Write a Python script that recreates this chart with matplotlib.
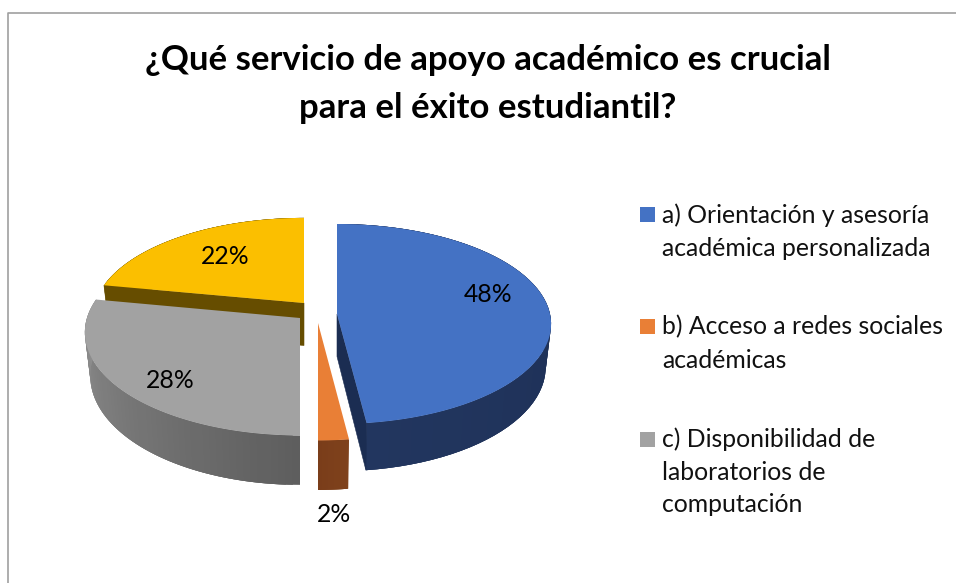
import numpy as np
import matplotlib
matplotlib.use('Agg')
import matplotlib.pyplot as plt
from matplotlib.patches import Polygon, Rectangle
from matplotlib.colors import to_rgb

plt.rcParams['font.family'] = ['Lato', 'DejaVu Sans']

# datos
titulo = ['¿Qué servicio de apoyo académico es crucial', 'para el éxito estudiantil?']
valores = [48, 2, 28, 22]
etiquetas = ['48%', '2%', '28%', '22%']
leyenda = [
    ['a) Orientación y asesoría', 'académica personalizada'],
    ['b) Acceso a redes sociales', 'académicas'],
    ['c) Disponibilidad de', 'laboratorios de', 'computación'],
]

# estilo de cada porcion: color, borde claro y oscuro del lateral, cara de corte
colores = ['#4472C4', '#E97F36', '#A2A2A2', '#FBBF00']
lateral_a = ['#1A2B50', '#7F421C', '#5E5E5E', '#664D00']
lateral_b = ['#22365F', '#7A3D1A', '#939393', '#664D00']
corte = ['#1B2D52', '#7D3F1C', '#6E6E6E', '#664D00']
# centro de cada porcion en pixeles y radios
centros = [(337, 314), (318, 323), (300, 318), (304, 303)]
radios_x = [213, 213, 213, 209]
radios_y = [99, 101, 101, 97]
persp = [0.10, 0.14, 0.14, 0.14]
prof = 42.5

fig = plt.figure(figsize=(9.56, 5.83), dpi=100)
ax = fig.add_axes([0, 0, 1, 1])
ax.set_xlim(0, 956)
ax.set_ylim(583, 0)
ax.axis('off')


def punto(i, ang, abajo=False):
    # angulo desde las 12 en sentido horario, con perspectiva
    x = np.sin(ang)
    y = np.cos(ang)
    esc = 1 / (1 + persp[i] * y)
    cx, cy = centros[i]
    f = 0.975 if abajo else 1.0
    px = cx + radios_x[i] * x * esc * f
    py = cy - radios_y[i] * y * esc
    if abajo:
        py = py + prof * esc
    return px, py


def base(i, abajo=False):
    cx, cy = centros[i]
    return cx, cy + (prof if abajo else 0)


fin = np.cumsum(valores) / np.sum(valores) * 2 * np.pi
inicio = np.concatenate([[0], fin[:-1]])

# orden de dibujo: de atras hacia adelante
for i in [3, 2, 1, 0]:
    angs = np.linspace(inicio[i], fin[i], 61)
    # lateral con degradado, cada tramo solapa al siguiente para evitar rayas
    c0 = np.array(to_rgb(lateral_a[i]))
    c1 = np.array(to_rgb(lateral_b[i]))
    for j in range(len(angs) - 1):
        t = j / (len(angs) - 2)
        col = c0 * (1 - t) + c1 * t
        k2 = min(j + 3, len(angs) - 1)
        tramo = angs[j:k2 + 1]
        pts = [punto(i, a) for a in tramo] + [punto(i, a, True) for a in tramo[::-1]]
        ax.add_patch(Polygon(pts, closed=True, facecolor=col, edgecolor='none'))
    # caras de corte visibles
    if i == 0:
        ax.add_patch(Polygon([base(i), punto(i, fin[i]), punto(i, fin[i], True), base(i, True)],
                             closed=True, facecolor=corte[i], edgecolor=corte[i], lw=0.4))
    if i == 3:
        ax.add_patch(Polygon([punto(i, inicio[i]), base(i), base(i, True), punto(i, inicio[i], True)],
                             closed=True, facecolor=corte[i], edgecolor=corte[i], lw=0.4))
    # cara superior
    borde = [punto(i, a) for a in np.linspace(inicio[i], fin[i], 181)]
    ax.add_patch(Polygon([base(i)] + borde, closed=True, facecolor=colores[i], edgecolor='none'))

# etiquetas de datos
pos_etiquetas = [(488, 294), (334, 514), (170, 381), (225, 256)]
for txt, (x, y) in zip(etiquetas, pos_etiquetas):
    ax.text(x, y, txt, fontsize=17.8, color='black', ha='center', va='center')

# titulo
for linea, y in zip(titulo, [59.5, 108.5]):
    ax.text(488, y, linea, fontsize=25, fontweight='bold', color='black', ha='center', va='center')

# leyenda
ys_cuadro = [207, 319, 432]
ys_texto = [[215, 248], [327, 361], [439, 473, 505]]
for i, lineas in enumerate(leyenda):
    ax.add_patch(Rectangle((640, ys_cuadro[i]), 15, 15, facecolor=colores[i], edgecolor='none'))
    for linea, y in zip(lineas, ys_texto[i]):
        ax.text(662, y, linea, fontsize=17.8, color='#111111', ha='left', va='center')

# marco del grafico
ax.plot([8, 8, 956], [583, 13, 13], color='#A0A0A0', lw=1.2)

fig.savefig('out.png', dpi=100)
